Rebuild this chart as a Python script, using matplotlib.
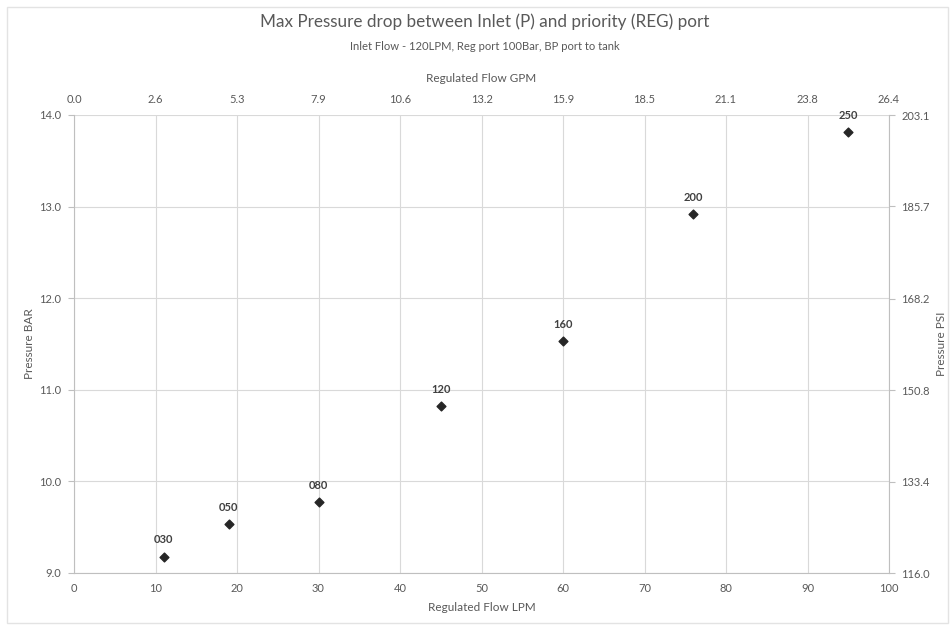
import numpy as np
import matplotlib
matplotlib.use("Agg")
import matplotlib.pyplot as plt
from matplotlib.patches import Rectangle

plt.rcParams['font.family'] = ['Lato', 'DejaVu Sans']

# Data
flow_lpm = [11, 19, 30, 45, 60, 76, 95]
pressure_bar = [9.18, 9.53, 9.77, 10.82, 11.53, 12.92, 13.81]
point_labels = ["030", "050", "080", "120", "160", "200", "250"]

lpm_ticks = [0, 10, 20, 30, 40, 50, 60, 70, 80, 90, 100]
gpm_ticks = [0.0, 2.6, 5.3, 7.9, 10.6, 13.2, 15.9, 18.5, 21.1, 23.8, 26.4]
bar_ticks = [9.0, 10.0, 11.0, 12.0, 13.0, 14.0]
psi_ticks = [116.0, 133.4, 150.8, 168.2, 185.7, 203.1]

text_col = "#595959"
grid_col = "#d9d9d9"
spine_col = "#bfbfbf"

W, H = 952, 630
fig = plt.figure(figsize=(W / 100, H / 100), dpi=100)
fig.patches.append(Rectangle((7 / W, 7 / H), 941 / W, 616 / H, transform=fig.transFigure,
                             fill=False, edgecolor="#e3e3e3", linewidth=1))

ax = fig.add_axes([74 / W, 1 - 573 / H, (889 - 74) / W, (573 - 115) / H])
ax.scatter(flow_lpm, pressure_bar, marker="D", s=20, color="#262626", zorder=3)
for x, y, lab in zip(flow_lpm, pressure_bar, point_labels):
    ax.annotate(lab, (x, y), xytext=(0, 8), textcoords="offset points",
                ha="center", va="bottom", fontsize=8, fontweight="bold", color="#404040")

ax.set_xlim(0, 100)
ax.set_ylim(9.0, 14.0)
ax.set_xticks(lpm_ticks)
ax.set_yticks(bar_ticks)
ax.set_yticklabels([f"{v:.1f}" for v in bar_ticks])
ax.grid(True, color=grid_col, linewidth=0.8)
ax.set_axisbelow(True)
for side in ["top", "right"]:
    ax.spines[side].set_visible(False)
for side in ["left", "bottom"]:
    ax.spines[side].set_color(spine_col)
ax.tick_params(axis="x", length=0, pad=7, labelsize=8, labelcolor=text_col)
ax.tick_params(axis="y", length=4, color=spine_col, pad=5, labelsize=8, labelcolor=text_col)
ax.set_xlabel("Regulated Flow LPM", fontsize=8.5, color=text_col, labelpad=6)
ax.set_ylabel("Pressure BAR", fontsize=8.5, color=text_col, labelpad=3)

# top axis in GPM
top = ax.twiny()
top.set_xlim(ax.get_xlim())
top.set_xticks(lpm_ticks)
top.set_xticklabels([f"{v:.1f}" for v in gpm_ticks])
top.tick_params(axis="x", length=0, pad=7, labelsize=8, labelcolor=text_col)
top.set_xlabel("Regulated Flow GPM", fontsize=8.5, color=text_col, labelpad=9)

# right axis in PSI
right = ax.twinx()
right.set_ylim(psi_ticks[0], psi_ticks[-1])
right.set_yticks(psi_ticks)
right.set_yticklabels([f"{v:.1f}" for v in psi_ticks])
right.tick_params(axis="y", length=4, color=spine_col, pad=5, labelsize=8, labelcolor=text_col)
right.set_ylabel("Pressure PSI", fontsize=8.5, color=text_col, labelpad=4)

for a in (top, right):
    for side in ["top", "left", "bottom"]:
        a.spines[side].set_visible(False)
right.spines["right"].set_color(spine_col)
top.spines["right"].set_visible(False)

fig.text(485 / W, 1 - 22 / H, "Max Pressure drop between Inlet (P) and priority (REG) port",
         ha="center", va="center", fontsize=12.3, color=text_col)
fig.text(485 / W, 1 - 46 / H, "Inlet Flow - 120LPM, Reg port 100Bar, BP port to tank",
         ha="center", va="center", fontsize=8.1, color=text_col)

fig.savefig("out.png", dpi=100)
